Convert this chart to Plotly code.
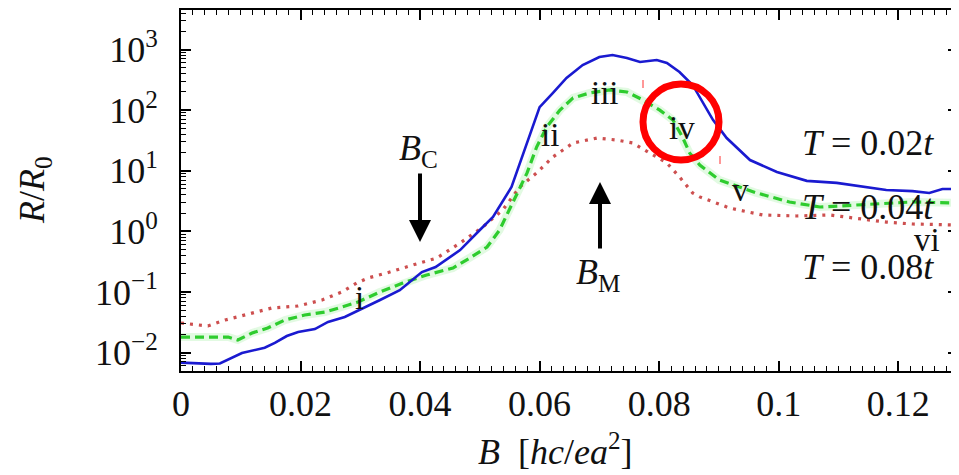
import plotly.graph_objects as go

# ---- data ----
B_T002 = [0, 0.005, 0.0065, 0.0102, 0.014, 0.0157, 0.0177, 0.0196, 0.0224, 0.0246, 0.0274, 0.0299,
          0.0333, 0.0366, 0.0383, 0.0403, 0.0426, 0.0467, 0.05, 0.0522, 0.0553, 0.0575, 0.060, 0.0622,
          0.0645, 0.0672, 0.070, 0.0722, 0.0746, 0.0768, 0.0796, 0.0813, 0.0834, 0.0856, 0.089, 0.0913,
          0.0952, 0.0997, 0.1047, 0.1097, 0.1147, 0.118, 0.1224, 0.1252, 0.1274, 0.13]
R_T002 = [0.0068, 0.0065, 0.0066, 0.0098, 0.012, 0.0144, 0.0187, 0.0218, 0.0244, 0.032, 0.0385, 0.05,
          0.0735, 0.107, 0.146, 0.213, 0.258, 0.49, 1.05, 1.72, 5.4, 22, 112, 191,
          339, 555, 752, 811, 724, 622, 671, 599, 425, 260, 69, 34.6,
          15, 9.5, 6.8, 6.3, 5.4, 4.8, 4.6, 4.3, 5.0, 5.0]

B_T004 = [0, 0.0079, 0.0095, 0.0119, 0.0145, 0.0174, 0.0207, 0.0241, 0.0269, 0.0296, 0.0333, 0.0371,
          0.0411, 0.0455, 0.0483, 0.0512, 0.0533, 0.0555, 0.0562, 0.0579, 0.0595, 0.0612, 0.0634, 0.0656,
          0.0684, 0.0717, 0.0746, 0.0773, 0.0801, 0.0823, 0.0839, 0.0851, 0.0868, 0.0901, 0.0963, 0.1018,
          0.1069, 0.1124, 0.1181, 0.1224, 0.13]
R_T004 = [0.018, 0.018, 0.0161, 0.021, 0.0254, 0.0344, 0.0416, 0.0466, 0.0563, 0.068, 0.1, 0.14,
          0.19, 0.248, 0.362, 0.55, 1.05, 2.93, 4.3, 9.2, 24.6, 52.6, 100, 159,
          192, 215, 199, 147, 100, 68.7, 36, 19.6, 12.4, 7.0, 4.3, 3.05,
          2.52, 2.72, 2.93, 3.05, 2.93]

B_T008 = [0, 0.0045, 0.0074, 0.0107, 0.0152, 0.0196, 0.0236, 0.0269, 0.0294, 0.0313, 0.0344, 0.0388,
          0.0428, 0.0467, 0.0505, 0.0538, 0.0567, 0.0595, 0.0622, 0.0656, 0.0696, 0.0729, 0.0756, 0.0784,
          0.0813, 0.0834, 0.0856, 0.0868, 0.0918, 0.0973, 0.103, 0.1085, 0.113, 0.118, 0.1224, 0.13]
R_T008 = [0.0307, 0.0274, 0.0344, 0.0416, 0.0542, 0.0585, 0.0735, 0.0996, 0.14, 0.17, 0.205, 0.278,
          0.362, 0.641, 1.18, 2.24, 5.4, 9.2, 16.8, 28.7, 34.6, 32.1, 28.7, 19.6,
          13.4, 7.9, 4.3, 3.7, 2.42, 1.86, 1.79, 1.86, 1.66, 1.42, 1.32, 1.27]

x_tickvals = [0, 0.02, 0.04, 0.06, 0.08, 0.1, 0.12]
x_ticktext = ["0", "0.02", "0.04", "0.06", "0.08", "0.1", "0.12"]
y_tickvals = [1e-2, 1e-1, 1e0, 1e1, 1e2, 1e3]
y_ticktext = ["10<sup>\u22122</sup>", "10<sup>\u22121</sup>", "10<sup>0</sup>",
              "10<sup>1</sup>", "10<sup>2</sup>", "10<sup>3</sup>"]

FONT = "Liberation Serif"

fig = go.Figure()
fig.add_trace(go.Scatter(x=B_T004, y=R_T004, mode="lines", line=dict(color="rgba(140,235,140,0.25)", width=8),
                         hoverinfo="skip", showlegend=False))
fig.add_trace(go.Scatter(x=B_T008, y=R_T008, mode="lines", line=dict(color="rgba(200,60,60,0.9)", width=3.2, dash="3px,6px"),
                         name="T=0.08t", showlegend=False))
fig.add_trace(go.Scatter(x=B_T004, y=R_T004, mode="lines", line=dict(color="#2ecc2e", width=3.2, dash="9px,5px"),
                         name="T=0.04t", showlegend=False))
fig.add_trace(go.Scatter(x=B_T002, y=R_T002, mode="lines", line=dict(color="#1a1ad0", width=2.6),
                         name="T=0.02t", showlegend=False))

# page body has an 8px margin: the figure is drawn offset by 8px
OFF = 8
W, H = 959 - OFF, 475 - OFF
# plot area in window pixels: x 181..958, y 10..371
PL, PR, PT, PB = 181, 958, 10, 371
pw, ph = PR - PL, PB - PT


def px(xp):
    return (xp - PL) / pw


def py(yp):
    return (PB - yp) / ph


def label(txt, xp, yp, size=36, angle=0):
    return dict(x=px(xp), y=py(yp), xref="paper", yref="paper", text=txt, showarrow=False,
                xanchor="center", yanchor="middle", textangle=angle,
                font=dict(family=FONT, size=size, color="#111"))


annotations = []
for txt, xp, yp in [("i", 359, 298), ("ii", 550, 135), ("iii", 605, 93), ("iv", 682, 128),
                    ("v", 740, 190), ("vi", 927, 240)]:
    annotations.append(label(txt, xp, yp, size=33))
for txt, yp in [("<i>T</i> = 0.02<i>t</i>", 143), ("<i>T</i> = 0.04<i>t</i>", 207), ("<i>T</i> = 0.08<i>t</i>", 267)]:
    annotations.append(label(txt, 868, yp))
annotations.append(label("<i>B</i><sub>C</sub>", 418, 150))
annotations.append(label("<i>B</i><sub>M</sub>", 598, 274))
annotations.append(dict(x=px(420), y=py(242), xref="paper", yref="paper", ax=0, ay=172 - 242,
                        axref="pixel", ayref="pixel", text="", showarrow=True, arrowhead=2, arrowsize=1.1,
                        arrowwidth=4, arrowcolor="black"))
annotations.append(dict(x=px(600), y=py(182), xref="paper", yref="paper", ax=0, ay=250 - 182,
                        axref="pixel", ayref="pixel", text="", showarrow=True, arrowhead=2, arrowsize=1.1,
                        arrowwidth=4, arrowcolor="black"))
annotations.append(label("<i>B</i>  [<i>hc</i>/<i>ea</i><sup>2</sup>]", 555, 450))
annotations.append(label("<i>R</i>/<i>R</i><sub>0</sub>", 34, 190, angle=-90))

shapes = [
    dict(type="circle", xref="paper", yref="paper", x0=px(643), x1=px(719), y0=py(160), y1=py(84),
         line=dict(color="#ff0000", width=7)),
    dict(type="line", xref="paper", yref="paper", x0=px(643), x1=px(643), y0=py(80), y1=py(88),
         line=dict(color="#ff3030", width=1)),
    dict(type="line", xref="paper", yref="paper", x0=px(720), x1=px(720), y0=py(156), y1=py(164),
         line=dict(color="#ff3030", width=1)),
]

minor_y = [m * 10 ** k for k in range(-3, 4) for m in range(2, 10)]

fig.update_layout(
    width=W, height=H,
    margin=dict(l=PL - OFF, r=W - (PR - OFF), t=PT - OFF, b=H - (PB - OFF), autoexpand=False),
    paper_bgcolor="white", plot_bgcolor="white",
    font=dict(family=FONT, size=36, color="#111"),
    annotations=annotations, shapes=shapes,
    xaxis=dict(range=[0, 0.13], tickmode="array", tickvals=x_tickvals, ticktext=x_ticktext,
               ticks="inside", ticklen=10, tickwidth=1.5, tickcolor="black", automargin=False,
               showline=True, linewidth=2, linecolor="black", mirror="allticks",
               showgrid=False, zeroline=False, ticklabelstandoff=0,
               tickfont=dict(family=FONT, size=36, color="#111"),
               minor=dict(ticks="inside", ticklen=5, tickwidth=1, tickcolor="black", dtick=0.002, tick0=0,
                          showgrid=False)),
    yaxis=dict(type="log", range=[-2.305, 3.652], tickmode="array", tickvals=y_tickvals, ticktext=y_ticktext,
               ticks="inside", ticklen=10, tickwidth=1.5, tickcolor="black", automargin=False,
               showline=True, linewidth=2, linecolor="black", mirror="allticks",
               showgrid=False, zeroline=False, ticklabelstandoff=14,
               tickfont=dict(family=FONT, size=36, color="#111"),
               minor=dict(ticks="inside", ticklen=5, tickwidth=1, tickcolor="black", tickmode="array",
                          tickvals=minor_y, showgrid=False)),
)

fig.write_html("out.html")
